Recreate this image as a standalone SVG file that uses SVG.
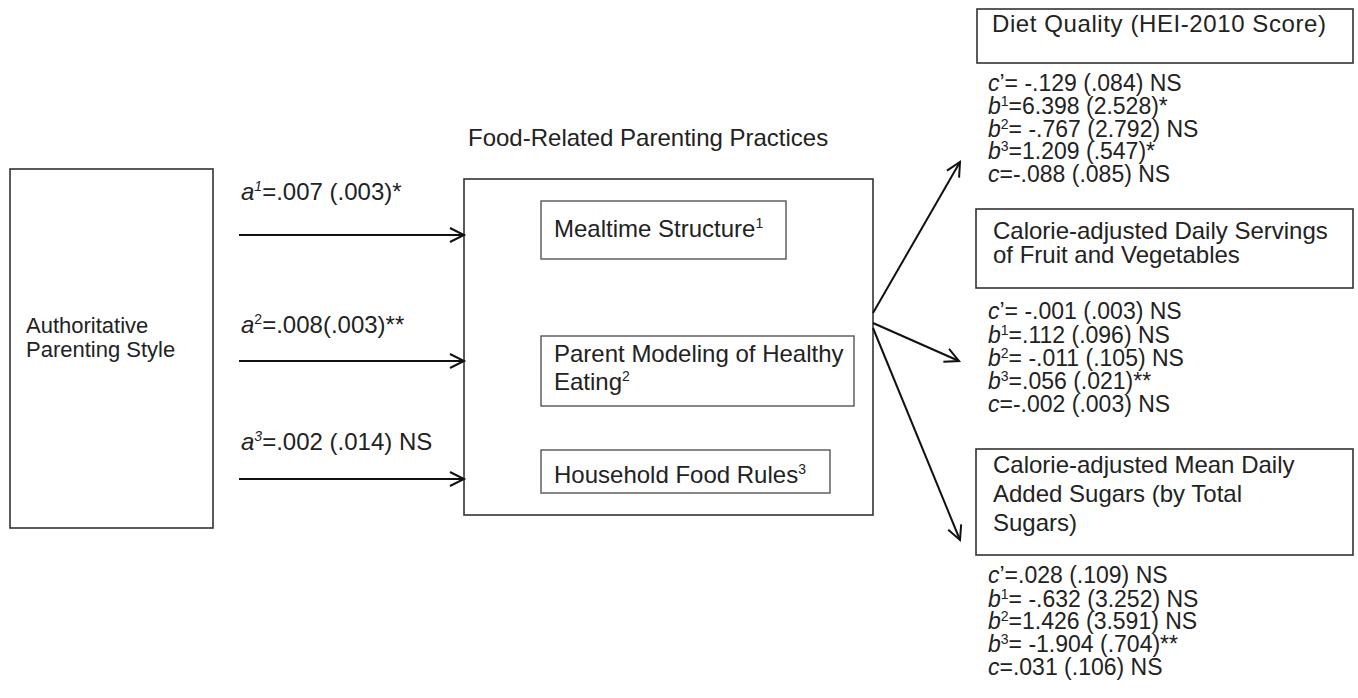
<svg xmlns="http://www.w3.org/2000/svg" width="1358" height="698" viewBox="0 0 1358 698">
<style>
text{font-family:"Liberation Sans",Arial,sans-serif;fill:#222;font-size:24px}
.l{font-size:22px}
.s{font-size:23px}
.i{font-style:italic}
.sup{font-size:14px}
.box{fill:none;stroke:#333;stroke-width:1.6}
.ibox{fill:none;stroke:#555;stroke-width:1.4}
.arr{fill:none;stroke:#111;stroke-width:2;marker-end:url(#ah)}
</style>
<defs>
<marker id="ah" markerWidth="18" markerHeight="18" refX="15" refY="8" orient="auto" markerUnits="userSpaceOnUse">
<path d="M1,1 L15,8 L1,15" fill="none" stroke="#111" stroke-width="2"/>
</marker>
</defs>
<rect width="1358" height="698" fill="#fff"/>

<g id="authoritative">
<rect class="box" x="10" y="169" width="203" height="359"/>
<text class="l" x="26" y="333">Authoritative</text>
<text class="l" x="26" y="357">Parenting Style</text>
</g>

<g id="practices">
<text x="468" y="146">Food-Related Parenting Practices</text>
<rect class="box" x="464" y="179" width="409" height="336"/>
</g>
<g id="mealtime">
<rect class="ibox" x="541" y="201" width="245" height="58"/>
<text x="554" y="237">Mealtime Structure<tspan class="sup" dy="-9">1</tspan></text>
</g>
<g id="modeling">
<rect class="ibox" x="541" y="336" width="313" height="70"/>
<text x="554" y="362">Parent Modeling of Healthy</text>
<text x="554" y="390">Eating<tspan class="sup" dy="-9">2</tspan></text>
</g>
<g id="rules">
<rect class="ibox" x="541" y="450" width="289" height="43"/>
<text x="554" y="483">Household Food Rules<tspan class="sup" dy="-9">3</tspan></text>
</g>

<g id="diet">
<rect class="box" x="977" y="9" width="376" height="54"/>
<text x="992" y="32" textLength="334">Diet Quality (HEI-2010 Score)</text>
<text class="s" x="988" y="91"><tspan class="i">c</tspan>’= -.129 (.084) NS</text>
<text class="s" x="988" y="114"><tspan class="i">b</tspan><tspan class="sup" dy="-8">1</tspan><tspan dy="8">=6.398 (2.528)*</tspan></text>
<text class="s" x="988" y="137"><tspan class="i">b</tspan><tspan class="sup" dy="-8">2</tspan><tspan dy="8">= -.767 (2.792) NS</tspan></text>
<text class="s" x="988" y="159"><tspan class="i">b</tspan><tspan class="sup" dy="-8">3</tspan><tspan dy="8">=1.209 (.547)*</tspan></text>
<text class="s" x="988" y="182"><tspan class="i">c</tspan>=-.088 (.085) NS</text>
</g>

<g id="fruitveg">
<rect class="box" x="976" y="209" width="377" height="79"/>
<text x="993" y="239">Calorie-adjusted Daily Servings</text>
<text x="993" y="263">of Fruit and Vegetables</text>
<text class="s" x="988" y="319"><tspan class="i">c</tspan>’= -.001 (.003) NS</text>
<text class="s" x="988" y="343"><tspan class="i">b</tspan><tspan class="sup" dy="-8">1</tspan><tspan dy="8">=.112 (.096) NS</tspan></text>
<text class="s" x="988" y="366"><tspan class="i">b</tspan><tspan class="sup" dy="-8">2</tspan><tspan dy="8">= -.011 (.105) NS</tspan></text>
<text class="s" x="988" y="389"><tspan class="i">b</tspan><tspan class="sup" dy="-8">3</tspan><tspan dy="8">=.056 (.021)**</tspan></text>
<text class="s" x="988" y="412"><tspan class="i">c</tspan>=-.002 (.003) NS</text>
</g>

<g id="sugars">
<rect class="box" x="976" y="449" width="377" height="106"/>
<text x="993" y="473">Calorie-adjusted Mean Daily</text>
<text x="993" y="502">Added Sugars (by Total</text>
<text x="993" y="531">Sugars)</text>
<text class="s" x="988" y="583"><tspan class="i">c</tspan>’=.028 (.109) NS</text>
<text class="s" x="988" y="607"><tspan class="i">b</tspan><tspan class="sup" dy="-8">1</tspan><tspan dy="8">= -.632 (3.252) NS</tspan></text>
<text class="s" x="988" y="629"><tspan class="i">b</tspan><tspan class="sup" dy="-8">2</tspan><tspan dy="8">=1.426 (3.591) NS</tspan></text>
<text class="s" x="988" y="652"><tspan class="i">b</tspan><tspan class="sup" dy="-8">3</tspan><tspan dy="8">= -1.904 (.704)**</tspan></text>
<text class="s" x="988" y="675"><tspan class="i">c</tspan>=.031 (.106) NS</text>
</g>

<g id="connectors">
<line class="arr" x1="239" y1="235" x2="464" y2="235"/>
<line class="arr" x1="239" y1="361" x2="464" y2="361"/>
<line class="arr" x1="239" y1="479" x2="464" y2="479"/>
<line class="arr" x1="873" y1="313" x2="960" y2="162"/>
<line class="arr" x1="873" y1="323" x2="959" y2="361"/>
<line class="arr" x1="873" y1="328" x2="960" y2="540"/>
<text x="241" y="200"><tspan class="i">a</tspan><tspan class="i sup" dy="-9">1</tspan><tspan dy="9">=.007 (.003)*</tspan></text>
<text x="241" y="333"><tspan class="i">a</tspan><tspan class="sup" dy="-9">2</tspan><tspan dy="9">=.008(.003)**</tspan></text>
<text x="241" y="450"><tspan class="i">a</tspan><tspan class="i sup" dy="-9">3</tspan><tspan dy="9">=.002 (.014) NS</tspan></text>
</g>
</svg>
